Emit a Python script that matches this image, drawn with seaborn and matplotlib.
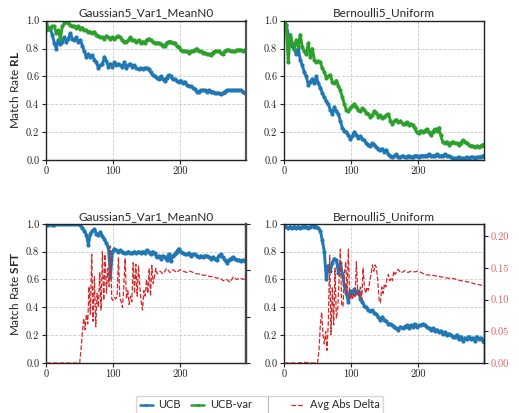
import matplotlib
matplotlib.use('Agg')
import matplotlib.pyplot as plt
import seaborn as sns
from matplotlib.lines import Line2D

# ---------------- data ----------------
STEP = list(range(0, 300, 3)) + [299]

GAUSS_RL_UCB = [
    0.93, 0.94, 0.94, 0.90, 0.84, 0.80, 0.86, 0.83, 0.85, 0.88,
    0.85, 0.87, 0.91, 0.87, 0.86, 0.88, 0.85, 0.86, 0.82, 0.78,
    0.74, 0.76, 0.74, 0.75, 0.72, 0.70, 0.66, 0.68, 0.69, 0.74,
    0.71, 0.67, 0.69, 0.67, 0.70, 0.68, 0.69, 0.68, 0.67, 0.70,
    0.66, 0.68, 0.69, 0.67, 0.68, 0.66, 0.65, 0.66, 0.65, 0.66,
    0.66, 0.65, 0.63, 0.61, 0.60, 0.59, 0.58, 0.60, 0.58, 0.57,
    0.59, 0.61, 0.60, 0.58, 0.58, 0.57, 0.56, 0.57, 0.55, 0.56,
    0.54, 0.53, 0.53, 0.52, 0.51, 0.49, 0.49, 0.50, 0.50, 0.50,
    0.49, 0.50, 0.49, 0.49, 0.48, 0.48, 0.48, 0.47, 0.48, 0.49,
    0.50, 0.50, 0.50, 0.50, 0.50, 0.50, 0.50, 0.50, 0.49, 0.48,
    0.48]
GAUSS_RL_UCBVAR = [
    1.00, 0.94, 0.95, 0.96, 0.96, 0.91, 0.93, 0.87, 0.96, 0.98,
    1.00, 0.98, 0.97, 0.96, 0.96, 0.95, 0.96, 0.94, 0.95, 0.93,
    0.93, 0.92, 0.92, 0.91, 0.92, 0.90, 0.89, 0.88, 0.88, 0.87,
    0.89, 0.88, 0.87, 0.88, 0.87, 0.88, 0.89, 0.88, 0.86, 0.85,
    0.85, 0.86, 0.88, 0.86, 0.86, 0.85, 0.86, 0.84, 0.85, 0.84,
    0.86, 0.87, 0.86, 0.85, 0.84, 0.84, 0.84, 0.83, 0.82, 0.82,
    0.84, 0.85, 0.85, 0.84, 0.84, 0.82, 0.81, 0.79, 0.78, 0.78,
    0.78, 0.77, 0.78, 0.78, 0.79, 0.80, 0.78, 0.78, 0.77, 0.77,
    0.76, 0.76, 0.75, 0.77, 0.78, 0.78, 0.78, 0.77, 0.76, 0.78,
    0.79, 0.79, 0.78, 0.78, 0.78, 0.79, 0.79, 0.79, 0.78, 0.79,
    0.79]
BERN_RL_UCB = [
    1.00, 0.97, 0.90, 0.88, 0.82, 0.80, 0.76, 0.80, 0.72, 0.68,
    0.63, 0.60, 0.54, 0.56, 0.58, 0.55, 0.60, 0.55, 0.52, 0.48,
    0.45, 0.42, 0.40, 0.36, 0.33, 0.38, 0.35, 0.33, 0.28, 0.23,
    0.21, 0.20, 0.18, 0.15, 0.17, 0.20, 0.18, 0.16, 0.17, 0.15,
    0.14, 0.12, 0.11, 0.10, 0.12, 0.11, 0.09, 0.08, 0.07, 0.08,
    0.06, 0.07, 0.04, 0.03, 0.02, 0.03, 0.04, 0.02, 0.02, 0.03,
    0.02, 0.02, 0.03, 0.02, 0.02, 0.03, 0.03, 0.02, 0.03, 0.03,
    0.03, 0.03, 0.04, 0.03, 0.03, 0.03, 0.04, 0.03, 0.03, 0.03,
    0.04, 0.03, 0.03, 0.02, 0.01, 0.01, 0.01, 0.02, 0.01, 0.01,
    0.01, 0.02, 0.01, 0.02, 0.02, 0.01, 0.02, 0.02, 0.02, 0.03,
    0.03]
BERN_RL_UCBVAR = [
    1.00, 0.97, 0.70, 0.90, 0.84, 0.80, 0.86, 0.82, 0.90, 0.81,
    0.78, 0.76, 0.84, 0.74, 0.80, 0.72, 0.70, 0.71, 0.70, 0.66,
    0.63, 0.59, 0.60, 0.61, 0.56, 0.55, 0.57, 0.53, 0.50, 0.45,
    0.40, 0.36, 0.35, 0.37, 0.39, 0.40, 0.38, 0.36, 0.35, 0.37,
    0.36, 0.34, 0.33, 0.31, 0.32, 0.35, 0.34, 0.31, 0.32, 0.30,
    0.31, 0.32, 0.33, 0.28, 0.26, 0.28, 0.29, 0.27, 0.28, 0.26,
    0.26, 0.27, 0.25, 0.26, 0.25, 0.23, 0.20, 0.19, 0.21, 0.20,
    0.21, 0.22, 0.20, 0.18, 0.20, 0.22, 0.21, 0.23, 0.18, 0.13,
    0.12, 0.13, 0.11, 0.12, 0.13, 0.12, 0.12, 0.11, 0.12, 0.14,
    0.13, 0.12, 0.11, 0.10, 0.10, 0.09, 0.10, 0.09, 0.10, 0.11,
    0.11]
GAUSS_SFT_UCB = [
    0.99, 0.99, 1.00, 0.99, 0.99, 1.00, 1.00, 1.00, 1.00, 1.00,
    1.00, 1.00, 1.00, 1.00, 1.00, 1.00, 1.00, 0.99, 0.97, 0.95,
    0.92, 0.85, 0.93, 0.95, 0.96, 0.93, 0.92, 0.94, 0.91, 0.89,
    0.86, 0.83, 0.62, 0.80, 0.82, 0.81, 0.80, 0.81, 0.80, 0.79,
    0.79, 0.80, 0.79, 0.79, 0.80, 0.79, 0.80, 0.79, 0.80, 0.79,
    0.81, 0.80, 0.78, 0.80, 0.79, 0.76, 0.77, 0.75, 0.77, 0.76,
    0.74, 0.78, 0.73, 0.77, 0.78, 0.80, 0.82, 0.80, 0.79, 0.78,
    0.78, 0.79, 0.77, 0.78, 0.78, 0.77, 0.76, 0.77, 0.76, 0.77,
    0.77, 0.76, 0.75, 0.76, 0.75, 0.74, 0.77, 0.78, 0.76, 0.74,
    0.72, 0.74, 0.75, 0.76, 0.75, 0.74, 0.74, 0.73, 0.74, 0.73,
    0.73]
BERN_SFT_UCB = [
    0.99, 0.98, 0.97, 0.98, 0.97, 0.98, 0.97, 0.98, 0.97, 0.98,
    0.98, 0.98, 0.97, 0.98, 0.99, 0.98, 0.98, 0.97, 0.95, 0.88,
    0.80, 0.60, 0.70, 0.66, 0.72, 0.75, 0.74, 0.65, 0.72, 0.64,
    0.56, 0.50, 0.44, 0.52, 0.50, 0.53, 0.50, 0.52, 0.46, 0.44,
    0.41, 0.40, 0.38, 0.37, 0.38, 0.36, 0.35, 0.33, 0.31, 0.33,
    0.31, 0.30, 0.28, 0.28, 0.27, 0.26, 0.25, 0.24, 0.26, 0.25,
    0.26, 0.27, 0.25, 0.27, 0.26, 0.28, 0.26, 0.27, 0.27, 0.28,
    0.27, 0.26, 0.25, 0.24, 0.25, 0.23, 0.24, 0.22, 0.23, 0.21,
    0.22, 0.20, 0.21, 0.20, 0.19, 0.19, 0.20, 0.17, 0.19, 0.16,
    0.18, 0.17, 0.19, 0.17, 0.18, 0.16, 0.19, 0.17, 0.18, 0.16,
    0.15]

DELTA_STEP = [
    0, 10, 20, 30, 40, 50, 52, 54, 56, 58,
    60, 62, 64, 66, 68, 70, 72, 74, 76, 78,
    80, 82, 84, 86, 88, 90, 92, 94, 96, 98,
    100, 102, 104, 106, 108, 110, 112, 114, 116, 118,
    120, 122, 124, 126, 128, 130, 132, 134, 136, 138,
    140, 142, 144, 146, 148, 150, 152, 154, 156, 158,
    160, 162, 164, 166, 170, 175, 180, 185, 190, 195,
    200, 205, 210, 215, 220, 225, 230, 235, 240, 245,
    250, 255, 260, 265, 270, 275, 280, 285, 290, 295,
    299]
GAUSS_DELTA = [
    0.0, 0.0, 0.0, 0.0, 0.0, 0.0, 0.030, 0.066, 0.096, 0.072,
    0.105, 0.084, 0.165, 0.105, 0.234, 0.090, 0.186, 0.078, 0.150, 0.120,
    0.195, 0.114, 0.240, 0.135, 0.234, 0.150, 0.204, 0.165, 0.252, 0.138,
    0.135, 0.141, 0.138, 0.144, 0.228, 0.141, 0.132, 0.120, 0.165, 0.225,
    0.138, 0.156, 0.126, 0.144, 0.132, 0.216, 0.150, 0.213, 0.144, 0.210,
    0.165, 0.132, 0.114, 0.156, 0.144, 0.180, 0.150, 0.204, 0.144, 0.210,
    0.171, 0.186, 0.204, 0.192, 0.198, 0.192, 0.204, 0.195, 0.201, 0.195,
    0.201, 0.198, 0.195, 0.198, 0.195, 0.192, 0.192, 0.189, 0.189, 0.186,
    0.186, 0.183, 0.183, 0.177, 0.180, 0.174, 0.186, 0.180, 0.183, 0.180,
    0.183]
BERN_DELTA = [
    0.0, 0.0, 0.0, 0.001, 0.0, 0.0, 0.020, 0.060, 0.080, 0.045,
    0.030, 0.050, 0.020, 0.065, 0.170, 0.045, 0.120, 0.060, 0.150, 0.070,
    0.085, 0.130, 0.180, 0.090, 0.090, 0.140, 0.160, 0.110, 0.180, 0.100,
    0.110, 0.100, 0.110, 0.105, 0.160, 0.110, 0.105, 0.120, 0.100, 0.150,
    0.120, 0.110, 0.120, 0.115, 0.130, 0.140, 0.155, 0.145, 0.155, 0.150,
    0.130, 0.100, 0.095, 0.120, 0.110, 0.125, 0.120, 0.135, 0.140, 0.130,
    0.135, 0.130, 0.145, 0.140, 0.148, 0.142, 0.146, 0.143, 0.145, 0.144,
    0.145, 0.143, 0.140, 0.139, 0.139, 0.138, 0.137, 0.136, 0.135, 0.134,
    0.134, 0.133, 0.131, 0.130, 0.129, 0.128, 0.127, 0.125, 0.124, 0.123,
    0.122]

TITLES = ["Gaussian5_Var1_MeanN0", "Bernoulli5_Uniform"]
ROW_LABELS = [r"Match Rate $\mathbf{RL}$", r"Match Rate $\mathbf{SFT}$"]
SERIES_NAMES = ["UCB", "UCB-var", "Avg Abs Delta"]
X_TICKS = [0, 100, 200]
X_TICK_LABELS = ["0", "100", "200"]
Y_TICKS = [0.0, 0.2, 0.4, 0.6, 0.8, 1.0]
Y_TICK_LABELS = ["0.0", "0.2", "0.4", "0.6", "0.8", "1.0"]
R_TICKS = [0.0, 0.05, 0.10, 0.15, 0.20]
R_TICK_LABELS = ["0.00", "0.05", "0.10", "0.15", "0.20"]
L_TWIN_TICKS = [0.0, 0.1, 0.2, 0.3]

# ---------------- style ----------------
BLUE = "#1f77b4"
GREEN = "#2ca02c"
RED = "#d62728"

sns.set_theme(style="ticks")
plt.rcParams["font.family"] = ["Lato", "DejaVu Sans"]
plt.rcParams["mathtext.fontset"] = "custom"
plt.rcParams["mathtext.rm"] = "Lato"
plt.rcParams["mathtext.bf"] = "Lato:bold"
plt.rcParams["axes.unicode_minus"] = False

TICK_FONT = "cmr10"
TICK_SIZE = 7.5

fig, axes = plt.subplots(2, 2, figsize=(5.19, 4.13), dpi=100)
fig.subplots_adjust(left=0.0892, right=0.9326, top=0.9499, bottom=0.1211,
                    wspace=0.191, hspace=0.459)

line_kw = dict(marker="o", markersize=3.0, markeredgewidth=0, linewidth=2.1,
               legend=False)


def style_axis(ax):
    ax.set_xlim(0, 299)
    ax.set_ylim(0, 1.0)
    ax.set_xticks(X_TICKS, X_TICK_LABELS, fontfamily=TICK_FONT, fontsize=TICK_SIZE)
    ax.set_yticks(Y_TICKS, Y_TICK_LABELS, fontfamily=TICK_FONT, fontsize=TICK_SIZE)
    ax.grid(True, linestyle="--", linewidth=0.6, color="#cccccc")
    ax.set_axisbelow(True)
    for sp in ax.spines.values():
        sp.set_color("#222222")
        sp.set_linewidth(1.0)
    ax.spines["right"].set_color("#555555")
    ax.spines["right"].set_linewidth(1.6)
    ax.tick_params(length=3, width=0.8, pad=2, colors="#222222")
    ax.set_xlabel("")
    ax.set_ylabel("")


# top row: RL
panels_rl = [(GAUSS_RL_UCB, GAUSS_RL_UCBVAR), (BERN_RL_UCB, BERN_RL_UCBVAR)]
for j, (ucb, ucbvar) in enumerate(panels_rl):
    ax = axes[0, j]
    sns.lineplot(x=STEP, y=ucb, ax=ax, color=BLUE, **line_kw)
    sns.lineplot(x=STEP, y=ucbvar, ax=ax, color=GREEN, **line_kw)
    style_axis(ax)
    if j == 1:
        ax.spines["right"].set_color("#222222")
        ax.spines["right"].set_linewidth(1.0)
    ax.set_title(TITLES[j], fontsize=8.5, pad=3)

# bottom row: SFT + delta
panels_sft = [(GAUSS_SFT_UCB, GAUSS_DELTA), (BERN_SFT_UCB, BERN_DELTA)]
for j, (ucb, delta) in enumerate(panels_sft):
    ax = axes[1, j]
    sns.lineplot(x=STEP, y=ucb, ax=ax, color=BLUE, **line_kw)
    style_axis(ax)
    ax.set_title(TITLES[j], fontsize=8.5, pad=3)
    tw = ax.twinx()
    sns.lineplot(x=DELTA_STEP, y=delta, ax=tw, color=RED, linestyle="--",
                 linewidth=0.9, legend=False)
    tw.set_xlim(0, 299)
    tw.set_ylabel("")
    for sp in tw.spines.values():
        sp.set_visible(False)
    if j == 0:
        tw.spines["right"].set_visible(True)
        tw.spines["right"].set_color("#444444")
        tw.spines["right"].set_linewidth(1.6)
        tw.set_ylim(0, 0.3)
        tw.set_yticks(L_TWIN_TICKS, [""] * len(L_TWIN_TICKS))
        tw.tick_params(axis="y", length=3, width=0.8, colors="#222222")
    else:
        tw.spines["right"].set_visible(True)
        tw.spines["right"].set_color("#222222")
        tw.spines["right"].set_linewidth(1.0)
        ax.spines["right"].set_color("#222222")
        ax.spines["right"].set_linewidth(1.0)
        tw.set_ylim(0, 0.22)
        tw.set_yticks(R_TICKS, R_TICK_LABELS, fontfamily=TICK_FONT,
                      fontsize=TICK_SIZE, color="#e06060")
        tw.tick_params(axis="y", length=3, width=0.8, pad=2, colors="#222222",
                       labelcolor="#e06060")

axes[0, 0].set_ylabel(ROW_LABELS[0], fontsize=8.5, labelpad=4)
axes[1, 0].set_ylabel(ROW_LABELS[1], fontsize=8.5, labelpad=4)

handles = [
    Line2D([], [], color=BLUE, marker="o", markersize=2.2, markeredgewidth=0, linewidth=1.8),
    Line2D([], [], color=GREEN, marker="o", markersize=2.2, markeredgewidth=0, linewidth=1.8),
    Line2D([], [], color="#bbbbbb", marker="|", linestyle="None", markersize=13,
           markeredgewidth=0.8),
    Line2D([], [], color=RED, linestyle="--", linewidth=0.9),
]
labels = [SERIES_NAMES[0], SERIES_NAMES[1], "", SERIES_NAMES[2]]
fig.legend(handles, labels, loc="upper center", bbox_to_anchor=(0.5, 1 - 390 / 413),
           ncol=4, fontsize=8, frameon=True, handlelength=1.2, handletextpad=0.5,
           columnspacing=0.9, borderpad=0.35, edgecolor="#cccccc", fancybox=True)

fig.savefig("out.png", dpi=100)
